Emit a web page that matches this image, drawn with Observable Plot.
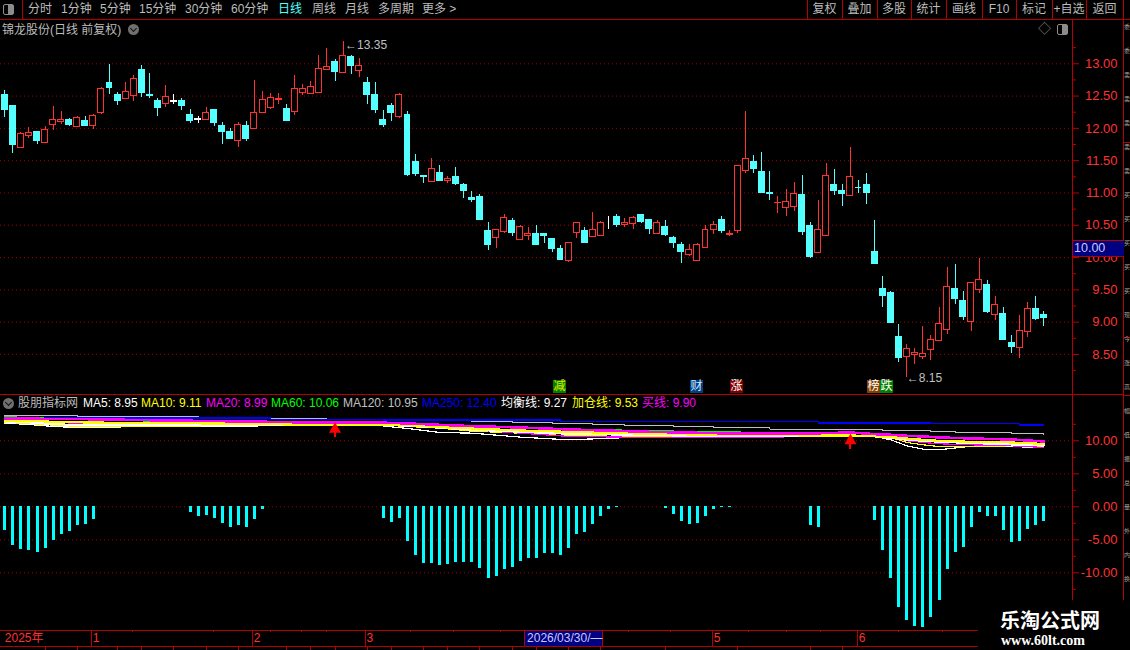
<!DOCTYPE html>
<html lang="zh">
<head>
<meta charset="utf-8">
<title>锦龙股份 日线</title>
<script src="https://cdn.jsdelivr.net/npm/d3@7"></script>
<script src="https://cdn.jsdelivr.net/npm/@observablehq/plot@0.6"></script>
<style>
html,body{margin:0;padding:0;background:#000;width:1130px;height:650px;overflow:hidden}
#page{position:relative;width:1130px;height:650px;background:#000;overflow:hidden;
  font-family:"Liberation Sans","Noto Sans CJK SC",sans-serif;font-size:12px;color:#bcbcbc}
#page>*{position:absolute}
.t{white-space:nowrap;line-height:14px}
.ln{background:#b40000}
.chip{width:13px;height:13px;line-height:13px;text-align:center;color:#fff;font-size:12px;top:380px}
.circ{width:11px;height:11px;border-radius:50%;background:#707070}
.circ:after{content:"";position:absolute;left:3px;top:2px;width:4px;height:4px;border:solid #111;border-width:0 1.5px 1.5px 0;transform:rotate(45deg)}
.ico{width:9px;height:9px;border:1.5px solid #8c8c8c;border-radius:2px;background:linear-gradient(90deg,#000 50%,#8c8c8c 50%)}
svg{display:block}
</style>
</head>
<body>
<div id="page"></div>
<script>
// ---------- candle data (prices) ----------
const kinds = ("dduuduuudu"+"duudduuddd"+"uwddwudddu"+"duuuuduuuu"+"udududdddu"+
               "dddududddd"+"duuduudddd"+"uuduuwduud"+"duddduuuud"+"uuuddduuud"+
               "duuddudddd"+"dduuuuuudd"+"uududduudd").split("");
const high = [12.59,12.35,11.94,12.01,11.95,12.03,12.34,12.26,12.15,12.18,
  12.18,12.21,12.63,12.99,12.56,12.71,12.82,12.97,12.85,12.47,
  12.66,12.52,12.47,12.29,12.18,12.32,12.29,12.09,12.00,12.09,
  12.11,12.74,12.57,12.54,12.54,12.37,12.82,12.68,12.73,13.13,
  13.24,13.07,13.35,13.13,13.08,12.79,12.71,12.27,12.38,12.54,
  12.26,11.59,11.26,11.53,11.43,11.25,11.40,11.14,11.03,10.98,
  10.55,10.43,10.66,10.61,10.50,10.46,10.49,10.36,10.28,10.18,
  10.22,10.54,10.46,10.70,10.56,10.64,10.66,10.60,10.63,10.66,
  10.58,10.58,10.58,10.33,10.24,10.21,10.22,10.50,10.56,10.63,
  10.42,11.42,12.26,11.58,11.62,11.34,10.94,11.05,11.16,11.27,
  10.55,10.88,11.45,11.37,11.13,11.70,11.20,11.30,10.57,9.71,
  9.47,8.97,8.66,8.60,8.94,8.80,9.22,9.85,9.89,9.47,
  9.62,9.98,9.65,9.39,9.23,8.79,9.11,9.31,9.40,9.16];
const bodyTop = [12.52,12.34,11.91,11.93,11.94,11.98,12.13,12.13,12.13,12.16,
  12.11,12.19,12.61,12.71,12.52,12.57,12.77,12.90,12.52,12.42,
  12.49,12.42,12.43,12.21,12.14,12.24,12.28,12.03,11.94,12.05,
  12.03,12.24,12.44,12.47,12.46,12.30,12.61,12.61,12.64,12.92,
  12.95,13.02,13.12,13.10,12.97,12.70,12.51,12.13,12.35,12.52,
  12.21,11.48,11.26,11.37,11.31,11.22,11.25,11.12,10.92,10.94,
  10.41,10.43,10.61,10.56,10.47,10.37,10.36,10.36,10.28,10.13,
  10.22,10.54,10.41,10.43,10.53,10.61,10.63,10.54,10.61,10.66,
  10.58,10.53,10.47,10.30,10.19,10.11,10.19,10.42,10.51,10.58,
  10.37,11.41,11.52,11.48,11.33,11.00,10.85,10.86,10.98,10.97,
  10.49,10.42,11.26,11.13,11.03,11.24,11.08,11.13,10.09,9.51,
  9.45,8.77,8.58,8.52,8.50,8.73,8.97,9.55,9.51,9.33,
  9.60,9.66,9.58,9.26,9.13,8.68,8.86,9.21,9.20,9.11];
const bodyBottom = [12.28,11.75,11.70,11.88,11.81,11.77,12.05,12.10,12.06,12.02,
  12.03,12.03,12.24,12.62,12.42,12.45,12.50,12.54,12.50,12.32,
  12.38,12.41,12.34,12.12,12.13,12.13,12.08,11.94,11.84,11.81,
  11.84,11.99,12.24,12.31,12.44,12.12,12.26,12.55,12.53,12.55,
  12.91,12.87,12.86,12.96,12.89,12.51,12.29,12.05,12.24,12.18,
  11.28,11.29,11.25,11.17,11.19,11.18,11.14,11.03,10.89,10.58,
  10.19,10.31,10.40,10.38,10.27,10.34,10.19,10.33,10.13,9.96,
  9.94,10.38,10.22,10.32,10.34,10.61,10.50,10.51,10.52,10.55,
  10.44,10.37,10.35,10.22,10.08,10.04,9.95,10.15,10.42,10.41,
  10.35,10.41,11.34,11.37,11.00,10.99,10.84,10.76,10.78,10.40,
  10.01,10.07,10.33,11.03,10.99,10.96,11.07,11.00,9.90,9.40,
  8.99,8.44,8.46,8.49,8.46,8.57,8.71,8.88,9.36,9.08,
  9.01,9.50,9.16,9.11,8.72,8.61,8.60,8.85,9.05,9.06];
const low = [12.17,11.61,11.69,11.85,11.75,11.77,11.97,12.06,12.03,12.01,
  12.03,11.99,12.22,12.52,12.35,12.45,12.42,12.48,12.46,12.18,
  12.32,12.37,12.28,12.08,12.07,12.12,12.03,11.75,11.83,11.70,
  11.80,11.98,12.23,12.29,12.37,12.11,12.20,12.51,12.53,12.55,
  12.90,12.73,12.86,12.83,12.79,12.37,12.23,12.01,12.10,12.16,
  11.26,11.26,11.14,11.17,11.17,11.14,11.12,10.91,10.86,10.58,
  10.11,10.14,10.37,10.33,10.26,10.27,10.18,10.22,10.08,9.96,
  9.93,10.30,10.22,10.32,10.32,10.44,10.47,10.47,10.44,10.53,
  10.36,10.36,10.32,10.14,9.91,10.02,9.94,10.14,10.36,10.38,
  10.32,10.38,11.30,11.30,10.99,10.89,10.69,10.63,10.71,10.34,
  9.99,10.06,10.33,10.96,10.79,10.96,10.99,10.82,9.90,9.23,
  8.99,8.37,8.15,8.35,8.43,8.41,8.71,8.81,9.28,9.02,
  8.86,9.44,9.13,9.02,8.72,8.51,8.44,8.77,9.02,8.94];

// ---------- histogram of the lower panel ----------
const histIndex = [0,1,2,3,4,5,6,7,8,9,10,11,
  23,24,25,26,27,28,29,30,31,32,
  47,48,49,50,51,52,53,54,55,56,57,58,59,60,61,62,63,64,65,66,67,68,69,70,71,72,73,74,75,76,
  82,83,84,85,86,87,88,89,90,
  100,101,
  108,109,110,111,112,113,114,115,116,117,118,119,120,121,122,123,124,125,126,127,128,129];
const histValue = [-3.6,-5.85,-6.45,-6.6,-6.9,-6.3,-5.1,-4.2,-3.75,-2.8,-2.7,-1.9,
  -0.85,-1.45,-1.3,-1.75,-2.5,-3.15,-2.85,-3.15,-1.9,-0.4,
  -1.75,-2.4,-1.75,-5.25,-7.35,-8.6,-8.6,-8.9,-8.75,-8.45,-8.45,-8.45,-9.35,-10.85,-10.55,-9.5,-9.2,-8.3,-7.85,-7.85,-7.05,-7.05,-7.35,-6.3,-4.2,-3.9,-2.7,-1.45,-0.4,-0.1,
  -0.25,-1.15,-2.2,-2.7,-2.5,-1.45,-0.4,-0.1,-0.1,
  -2.8,-3.15,
  -2.05,-6.6,-10.85,-15.25,-17.2,-18.15,-18.3,-16.75,-14.2,-9.5,-6.9,-6.15,-3.15,-0.85,-1.45,-1.45,-3.6,-5.4,-5.25,-3.4,-2.8,-2.2];

// ---------- indicator lines, read at these candle positions ----------
const ma250Index = [3,7,33,47,69,101,115,126,129];
const ma250 = [13.54,13.43,13.23,13.18,12.88,12.68,12.58,12.40,12.40];
const ma120Index = [0,9,24,32,40,53,58,63,68,73,77,83,88,95,101,109,115,118,125,129];
const ma120 = [13.89,13.74,13.59,13.43,13.28,13.03,12.88,12.73,12.58,12.42,12.27,12.12,11.97,11.77,11.67,11.52,11.36,11.26,11.06,10.95];
const lineIndex = [0,3,6,10,20,30,40,46,50,54,58,64,70,80,90,100,105,108,110,112,114,116,120,125,129];
const ma60  = [13.64,13.54,13.38,13.23,12.93,12.73,12.47,12.42,12.37,12.27,12.22,12.12,11.82,11.52,11.36,11.06,10.81,10.76,10.76,10.66,10.56,10.45,10.30,10.15,10.06];
const buyLine = [13.38,13.38,13.28,13.28,13.08,12.93,12.73,12.78,12.63,12.42,12.22,12.02,11.72,11.36,11.11,11.11,11.26,11.01,10.91,10.76,10.66,10.51,10.35,10.20,9.90];
const ma20  = [12.98,12.93,12.78,12.63,12.32,12.47,12.27,12.53,12.27,12.02,11.67,11.16,10.66,10.51,10.45,10.66,10.76,10.66,10.51,10.00,9.75,9.55,9.39,9.24,8.99];
const addLine = [13.08,13.03,12.88,12.78,12.68,12.58,12.37,12.42,12.37,12.07,11.87,11.57,11.36,11.06,10.86,10.81,10.81,10.71,10.56,10.35,10.15,10.00,9.85,9.75,9.53];
const ma10  = [12.78,12.63,12.37,12.12,12.17,12.37,12.27,12.47,12.17,11.92,11.46,11.16,10.76,10.66,10.51,10.71,10.76,10.66,10.51,9.75,9.39,9.14,9.14,9.24,9.11];
const balanceLine = [12.93,12.78,12.53,12.37,12.47,12.47,12.42,12.58,12.27,11.97,11.67,11.36,11.06,10.86,10.66,10.66,10.76,10.66,10.45,10.15,10.00,9.85,9.65,9.44,9.27];
const ma5   = [12.68,12.47,12.17,11.97,12.27,12.17,12.78,12.37,11.87,11.26,11.16,10.56,10.15,10.61,10.66,10.76,10.76,10.66,10.15,9.24,8.74,8.64,9.19,9.14,8.95];

// ---------- ticks and labels ----------
const priceTicks = [8.5,9,9.5,10,10.5,11,11.5,12,12.5,13];
const priceMinor = [8.25,8.75,9.25,9.75,10.25,10.75,11.25,11.75,12.25,12.75,13.25];
const indTicks = [10,5,0,-5,-10];
const indMinor = [12.5,7.5,2.5,-2.5,-7.5,-12.5];
const arrowIndex = [41,105];
const arrowTail = [10.5,8.73];
const arrowHead = [11.75,10.0];
const monthIndex = [10.8,30.8,44.8,87.9,105.9];
const monthLabel = ["1","2","3","5","6"];
const minorTime = [15.8,25.9,33,36.8,40,50.4,55.7,61.6,77.4,82.7,92.4,97,101.3,111,116.4];
const lowerTime = [5,9,14,17,21,25,29,35,38,41,45,48,52,55,59,63,66,70,74,82,91,100,104];
const menuLeft = ["分时","1分钟","5分钟","15分钟","30分钟","60分钟","日线","周线","月线","多周期","更多 >"];
const menuLeftX = [28,61,100,139,185,231,278,312,345,378,422];
const menuRight = ["复权","叠加","多股","统计","画线","F10","标记","+自选","返回"];
const menuRightEdges = [807,842,877,911,946,982,1016,1052,1086,1123];
const legendText = ["MA5: 8.95","MA10: 9.11","MA20: 8.99","MA60: 10.06","MA120: 10.95","MA250: 12.40","均衡线: 9.27","加仓线: 9.53","买线: 9.90"];
const legendX = [83,141,206,271,343,422,501,572,642];
const legendColor = ["#fff","#ff0","#f0f","#0f0","#c0c0c0","#0000ff","#fff","#ff0","#f0f"];
const sideGlyphs = ["委","委","卖","卖","卖","卖","卖","买","买","买","买","买","现","今","涨","高","幅","低","振","总","量","外","内","换"];

// ---------- shared ----------
const RED="#ff3232", DARK="#b40000", GRID="#a00000", CYAN="#54ffff";
const FONT='"Liberation Sans","Noto Sans CJK SC",sans-serif';
const xDomain=[-0.534,132.57];
const page=document.getElementById("page");
const candles=kinds.map((k,i)=>({i,k,h:high[i],t:bodyTop[i],b:bodyBottom[i],l:low[i]}));
const col=k=>k==="u"?RED:k==="w"?"#fff":CYAN;
const base={width:1130,marginLeft:0,marginRight:58,marginTop:0,marginBottom:0,
  style:{background:"transparent",fontFamily:FONT,fontSize:"13px"}};
function place(el,top){el.style.top=top+"px";el.style.left="0";page.appendChild(el);return el;}
function add(cls,css,text){const d=document.createElement("div");d.className=cls;d.style.cssText=css;if(text!=null)d.textContent=text;page.appendChild(d);return d;}

// ---------- main candle panel ----------
place(Plot.plot({...base,height:375,
  x:{domain:xDomain,axis:null},
  y:{domain:[7.865,13.67],axis:null},
  marks:[
    Plot.ruleY(priceTicks,{stroke:GRID,strokeDasharray:"1 3"}),
    Plot.axisY({anchor:"right",ticks:priceMinor,tickSize:3,text:null,stroke:DARK,label:null}),
    Plot.axisY({anchor:"right",ticks:priceTicks,tickSize:6,tickPadding:39,textAnchor:"end",
      tickFormat:d=>d.toFixed(2),color:RED,stroke:DARK,fill:RED,label:null}),
    Plot.ruleX(candles,{x:"i",y1:"l",y2:"h",stroke:d=>col(d.k),strokeWidth:1,shapeRendering:"crispEdges"}),
    Plot.rect(candles,{x1:d=>d.i-0.37,x2:d=>d.i+0.37,y1:"b",y2:"t",
      fill:d=>d.k==="u"?"#000":col(d.k),stroke:d=>col(d.k),strokeWidth:1,shapeRendering:"crispEdges"}),
    Plot.text([42],{x:d=>d,y:()=>13.35,text:()=>"←13.35",textAnchor:"start",dx:2,dy:4,fill:"#c0c0c0",fontSize:12}),
    Plot.text([112],{x:d=>d,y:()=>8.15,text:()=>"←8.15",textAnchor:"start",dx:0,dy:1,fill:"#c0c0c0",fontSize:12})
  ]}),20);

// ---------- lower indicator panel ----------
const line=(y,stroke,w)=>Plot.line(lineIndex,{x:lineIndex,y,stroke,strokeWidth:w,shapeRendering:"crispEdges"});
place(Plot.plot({...base,height:235,
  x:{domain:xDomain,axis:null},
  y:{domain:[-18.74,16.864],axis:null},
  marks:[
    Plot.ruleY(indTicks,{stroke:GRID,strokeDasharray:"1 3"}),
    Plot.axisY({anchor:"right",ticks:indMinor,tickSize:3,text:null,stroke:DARK,label:null}),
    Plot.axisY({anchor:"right",ticks:indTicks,tickSize:6,tickPadding:39,textAnchor:"end",
      tickFormat:d=>d.toFixed(2),color:RED,stroke:DARK,fill:RED,label:null}),
    Plot.ruleX(histIndex,{x:histIndex,y1:0,y2:histValue,stroke:"#00ffff",strokeWidth:3,shapeRendering:"crispEdges"}),
    Plot.line(ma120Index,{x:ma120Index,y:ma120,stroke:"#c0c0c0",strokeWidth:1,curve:"step-after",shapeRendering:"crispEdges"}),
    Plot.line(ma250Index,{x:ma250Index,y:ma250,stroke:"#0000ff",strokeWidth:1.4,curve:"step-after",shapeRendering:"crispEdges"}),
    line(ma60,"#00ff00",1.2),
    line(ma5,"#ffffff",1.2),
    line(ma10,"#ffff00",1.2),
    line(ma20,"#ff00ff",1.2),
    line(balanceLine,"#ffffff",2),
    line(addLine,"#ffff00",2.2),
    line(buyLine,"#ff00ff",2.6),
    Plot.ruleX(arrowIndex,{x:arrowIndex,y1:arrowTail,y2:arrowHead,stroke:"#ff0000",strokeWidth:2,shapeRendering:"crispEdges"}),
    Plot.dot(arrowIndex,{x:arrowIndex,y:arrowHead,symbol:"triangle",r:4.5,fill:"#ff0000"})
  ]}),395);

// ---------- time strip ----------
place(Plot.plot({...base,height:20,marginRight:58,
  x:{domain:xDomain,axis:null},
  y:{domain:[0,1],axis:null},
  marks:[
    Plot.ruleX(monthIndex,{x:monthIndex,y1:0.2,y2:1,stroke:DARK,shapeRendering:"crispEdges"}),
    Plot.ruleX(minorTime,{x:minorTime,y1:0.9,y2:1,stroke:DARK,shapeRendering:"crispEdges"}),
    Plot.ruleX(lowerTime,{x:lowerTime,y1:0,y2:0.2,stroke:DARK,shapeRendering:"crispEdges"}),
    Plot.text(["2025年"],{x:()=>0,y:()=>0.6,text:d=>d,textAnchor:"start",fill:RED,fontSize:12}),
    Plot.text(monthLabel,{x:monthIndex,y:()=>0.6,text:d=>d,textAnchor:"start",dx:1,fill:RED,fontSize:12}),
    Plot.rect([0],{x1:()=>64.6,x2:()=>74.25,y1:()=>0.2,y2:()=>1,fill:"#000080",stroke:DARK,shapeRendering:"crispEdges"}),
    Plot.text(["2026/03/30/—"],{x:()=>64.6,y:()=>0.6,text:d=>d,textAnchor:"start",dx:2,fill:"#c8c8ff",fontSize:12})
  ]}),630);

// ---------- frame lines ----------
add("ln","left:0;top:19px;width:1130px;height:1px");
add("ln","left:22px;top:0;width:1px;height:19px");
add("ln","left:0;top:394px;width:1123px;height:1px");
add("ln","left:1072px;top:19px;width:1px;height:581px");
add("ln","left:1123px;top:19px;width:1px;height:581px");
add("ln","left:0;top:630px;width:978px;height:1px");
add("ln","left:0;top:646px;width:978px;height:1px");
add("ln","left:1123px;top:142px;width:7px;height:1px");
add("ln","left:1123px;top:337px;width:7px;height:1px");
add("ln","left:1123px;top:395px;width:7px;height:1px");
menuRightEdges.forEach(x=>add("ln",`left:${x}px;top:0;width:1px;height:19px`));

// ---------- toolbar ----------
add("ico","left:3px;top:4px");
menuLeft.forEach((s,i)=>add("t",`left:${menuLeftX[i]}px;top:2px;color:${s==="日线"?"#54ffff":"#bcbcbc"}`,s));
menuRight.forEach((s,i)=>add("t",`left:${menuRightEdges[i]}px;width:${menuRightEdges[i+1]-menuRightEdges[i]}px;top:2px;text-align:center`,s));
add("t","left:2px;top:23px;color:#bcbcbc","锦龙股份(日线 前复权)");
add("circ","left:128px;top:24px");
add("t","left:1038px;top:22px;color:#808080;font-size:13px","◇");
add("ico","left:1057px;top:24px");

// ---------- chips over the main panel ----------
add("chip","left:553px;background:#008000;color:#e8e800","减");
add("chip","left:690px;background:#004080;color:#cfe6ff","财");
add("chip","left:730px;background:#800000","涨");
add("chip","left:867px;background:#804000","榜");
add("chip","left:880px;background:#008000","跌");

// ---------- current price box ----------
add("t","left:1072px;top:240px;width:50px;height:15px;background:#000080;border:1px solid #b40000;border-right:0;color:#c8c8ff;font-size:12.5px;line-height:15px;padding-left:1px","10.00");

// ---------- indicator legend ----------
add("circ","left:3px;top:398px");
add("t","left:18px;top:396px;color:#bcbcbc","股朋指标网");
legendText.forEach((s,i)=>add("t",`left:${legendX[i]}px;top:396px;color:${legendColor[i]}`,s));

// ---------- narrow side column ----------
sideGlyphs.forEach((s,i)=>add("t",`left:1124px;top:${24+i*24}px;color:#a8a8a8;font-size:6px;line-height:7px`,s));

// ---------- watermark ----------
add("","left:978px;top:600px;width:152px;height:50px;background:#000");
add("t","left:1000px;top:608px;color:#fff;font:bold 20px/24px 'Noto Sans CJK SC',sans-serif","乐淘公式网");
add("t","left:1001px;top:633px;color:#fff;font:bold 14px/15px 'Liberation Serif',serif","www.60lt.com");
</script>
</body>
</html>
